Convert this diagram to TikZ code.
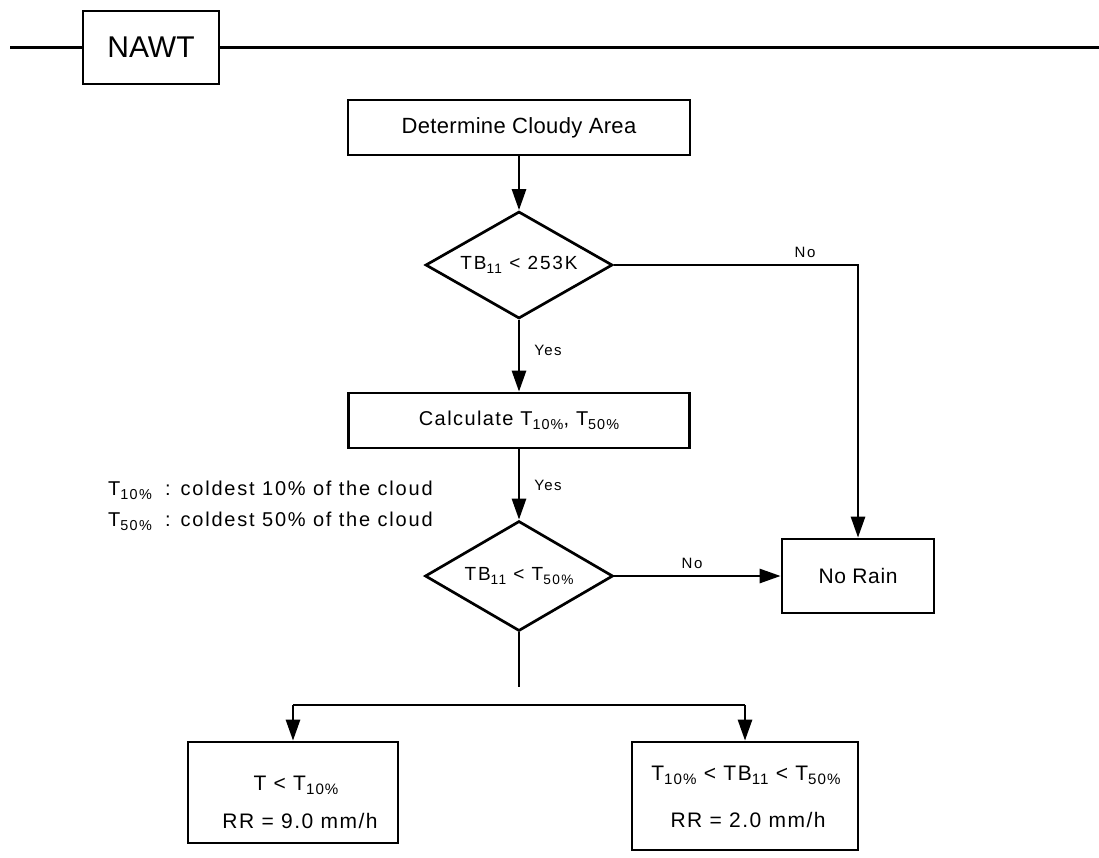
\documentclass[tikz,border=0pt]{standalone}
\usepackage{fontspec}
\setmainfont{Liberation Sans}
\usetikzlibrary{shapes.geometric,arrows.meta}

% lowered, reduced index such as the 11 in TB_11
\newcommand\idx[1]{\raisebox{-0.22em}{\scalebox{0.72}{#1}}}
% font size plus letter spacing
\newcommand\fs[2]{\fontsize{#1}{#1}\selectfont\addfontfeatures{LetterSpace=#2}}

\tikzset{
  flowline/.style={line width=2.7pt},
  flowarrow/.style={flowline,-{Triangle[length=21pt,width=14pt]}},
  procbox/.style={draw,line width=2.7pt,rectangle,inner sep=0pt,align=center},
  decision/.style={draw,line width=2.7pt,diamond,inner sep=0pt},
  lbl/.style={inner sep=0pt,font=\fs{15}{10}},
  txt/.style={inner sep=0pt,anchor=base}
}

\begin{document}
\begin{tikzpicture}[x=1pt,y=-1pt]
\useasboundingbox (0,0) rectangle (1099,857);

% title bar
\node[procbox,minimum width=136pt,minimum height=73pt,font=\fs{30}{0}] (nawt) at (151,47.5) {NAWT};
\coordinate (barL) at (10,47.5);
\coordinate (barR) at (1099,47.5);
\draw[flowline] (barL) -- (nawt.west);
\draw[flowline] (nawt.east) -- (barR);

% main flow
\node[procbox,minimum width=342pt,minimum height=55pt,font=\fs{22}{1.5}] (det) at (519,127.5) {Determine Cloudy Area};
\node[decision,aspect=1.75,minimum width=187pt,minimum height=107pt,font=\fs{19}{10}] (d1) at (519,265) {TB\idx{11} < 253K};
\node[procbox,minimum width=341pt,minimum height=55pt,font=\fs{20}{7}] (calc) at (519,420.5) {Calculate T\idx{10\%}, T\idx{50\%}};
\node[decision,aspect=1.71,minimum width=188pt,minimum height=110pt,font=\fs{19}{10}] (d2) at (519,576) {TB\idx{11} < T\idx{50\%}};
\node[procbox,minimum width=152pt,minimum height=74pt,font=\fs{21}{3}] (norain) at (858,576) {No Rain};

% result boxes and their two lines of text
\node[procbox,minimum width=210pt,minimum height=101pt] (lo) at (293,792.5) {};
\node[procbox,minimum width=226pt,minimum height=108pt] (mid) at (745,796) {};
\node[txt,font=\fs{21}{7}] (lo1) at (296,790) {T < T\idx{10\%}};
\node[txt,font=\fs{21}{7}] (lo2) at (300,828) {RR = 9.0 mm/h};
\node[txt,font=\fs{21}{7}] (mid1) at (746,780) {T\idx{10\%} < TB\idx{11} < T\idx{50\%}};
\node[txt,font=\fs{21}{7}] (mid2) at (748,827) {RR = 2.0 mm/h};

% connectors
\draw[flowarrow] (det) -- (d1);
\draw[flowarrow] (d1) -- (calc);
\draw[flowarrow] (calc) -- (d2);
\draw[flowarrow] (d1.east) -| (norain.north);
\draw[flowarrow] (d2.east) -- (norain.west);
\coordinate (stem) at (519,687);
\draw[flowline] (d2.south) -- (stem);
\coordinate (splitL) at (293,705);
\coordinate (splitR) at (745,705);
\draw[flowline] (splitL) -- (splitR);
\draw[flowarrow] (splitL) -- (lo.north);
\draw[flowarrow] (splitR) -- (mid.north);

% branch labels
\node[lbl] (no1) at (805,252) {No};
\node[lbl] (yes1) at (548,350) {Yes};
\node[lbl] (yes2) at (548,485) {Yes};
\node[lbl] (no2) at (692,563) {No};

% legend
\node[anchor=base west,inner sep=0pt,font=\fs{20}{9}] (key1) at (108,495) {\makebox[57pt][l]{T\idx{10\%}}: coldest 10\% of the cloud};
\node[anchor=base west,inner sep=0pt,font=\fs{20}{9}] (key2) at (108,526) {\makebox[57pt][l]{T\idx{50\%}}: coldest 50\% of the cloud};
\end{tikzpicture}
\end{document}
